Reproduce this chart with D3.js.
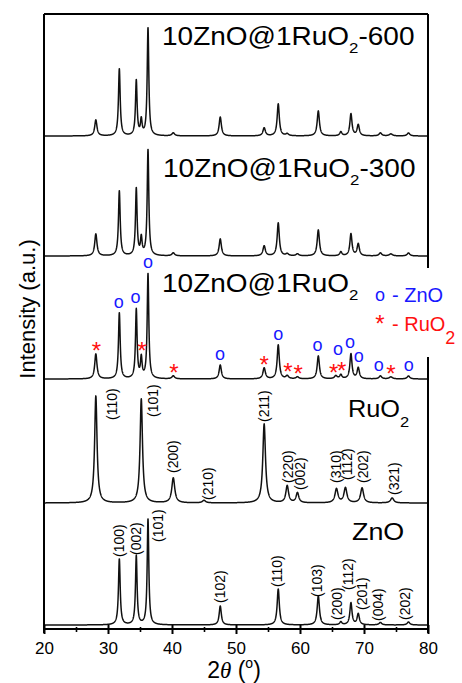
<!DOCTYPE html>
<html>
<head>
<meta charset="utf-8">
<script src="https://cdn.jsdelivr.net/npm/d3@7"></script>
<style>
  body { margin: 0; background: #fff; }
  text { font-family: "Liberation Sans", Arial, sans-serif; }
</style>
</head>
<body>
<div id="chart"></div>
<script>
// peaks: [2theta, height above baseline (a.u.), fwhm]
const znoPeaks = [
  [31.77, 66, 0.32], [34.42, 69, 0.3], [36.25, 106, 0.3], [47.54, 19, 0.4],
  [56.6, 36, 0.4], [62.86, 29, 0.42], [66.38, 3, 0.4], [67.96, 22, 0.4],
  [69.1, 11, 0.42], [72.56, 2.5, 0.5], [76.95, 3, 0.5]
]
const ruo2Peaks = [
  [28.1, 107, 0.45], [35.2, 104, 0.45], [40.2, 25, 0.55], [45.0, 2.5, 0.6],
  [54.4, 79, 0.5], [58.0, 17, 0.5], [59.6, 10, 0.5], [65.7, 14, 0.55],
  [67.1, 15, 0.55], [69.7, 15, 0.55], [74.4, 5, 0.6]
]
const compositePeaks = [
  [28.1, 25, 0.42], [31.77, 66, 0.32], [34.42, 69, 0.3], [35.2, 20, 0.3],
  [36.25, 105, 0.3], [40.2, 3, 0.5], [47.54, 14, 0.42], [54.4, 11, 0.45],
  [56.6, 34, 0.4], [58.0, 3, 0.5], [59.6, 2, 0.5], [62.86, 23, 0.42],
  [65.6, 3, 0.5], [66.38, 4, 0.4], [67.96, 25, 0.4], [69.1, 11, 0.42],
  [72.56, 3, 0.5], [74.2, 2, 0.6], [76.95, 3, 0.5]
]
const peaks300 = [
  [28.1, 22, 0.42], [31.77, 65, 0.32], [34.42, 67, 0.3], [35.2, 17, 0.3],
  [36.25, 106, 0.3], [40.2, 3, 0.5], [47.54, 17, 0.42], [54.4, 10, 0.45],
  [56.6, 33, 0.4], [58.0, 2, 0.5], [59.6, 2, 0.5], [62.86, 26, 0.42],
  [66.38, 4, 0.4], [67.96, 22, 0.4], [69.1, 12, 0.42], [72.56, 3, 0.5],
  [74.2, 2, 0.6], [76.95, 3, 0.5]
]
const peaks600 = [
  [28.1, 16, 0.42], [31.77, 67, 0.32], [34.42, 55, 0.3], [35.2, 15, 0.3],
  [36.25, 108, 0.3], [40.2, 3, 0.5], [47.54, 19, 0.42], [54.4, 8, 0.45],
  [56.6, 32, 0.4], [58.0, 2, 0.5], [62.86, 25, 0.42], [66.38, 4, 0.4],
  [67.96, 22, 0.4], [69.1, 11, 0.42], [72.56, 3, 0.5], [74.2, 2, 0.6],
  [76.95, 3, 0.5]
]

// stacked traces, bottom to top, with baseline offsets (a.u.)
const traces = [
  { name: 'ZnO', peaks: znoPeaks, offset: 4 },
  { name: 'RuO2', peaks: ruo2Peaks, offset: 126 },
  { name: '10ZnO@1RuO2', peaks: compositePeaks, offset: 250 },
  { name: '10ZnO@1RuO2-300', peaks: peaks300, offset: 373 },
  { name: '10ZnO@1RuO2-600', peaks: peaks600, offset: 493 }
]

// hkl labels: [text, 2theta, level above trace baseline]
const ruo2Hkl = [
  ['(110)', 30.66, 83], ['(101)', 37.0, 86], ['(200)', 40.15, 30], ['(210)', 45.6, 3],
  ['(211)', 54.4, 81], ['(220)', 58.1, 20], ['(002)', 60.0, 13], ['(310)', 65.6, 20],
  ['(112)', 67.3, 23], ['(202)', 69.8, 20], ['(321)', 74.7, 8]
]
const znoHkl = [
  ['(100)', 31.7, 68], ['(002)', 34.4, 70], ['(101)', 37.8, 83], ['(102)', 47.5, 22],
  ['(110)', 56.4, 38], ['(103)', 62.65, 28], ['(200)', 65.8, 5], ['(112)', 67.5, 35],
  ['(201)', 69.7, 15], ['(004)', 72.2, 4], ['(202)', 76.4, 5]
]

// phase markers on the composite trace
const rutileMarks = [28.2, 35.3, 40.3, 54.4, 58.1, 59.7, 65.25, 66.5, 74.2]
const zincMarks = [36.25, 31.7, 34.3, 47.5, 56.6, 62.75, 65.95, 67.8, 69.2, 72.3, 77.0]

const xTicks = [20, 30, 40, 50, 60, 70, 80]
const xMinor = [25, 35, 45, 55, 65, 75]

const width = 462
const height = 683
const plot = { left: 44, right: 428, top: 14, bottom: 629 }

const svg = d3.select('#chart').append('svg')
  .attr('width', width)
  .attr('height', height)

const x = d3.scaleLinear().domain([20, 80]).range([plot.left, plot.right])
const y = d3.scaleLinear().domain([0, plot.bottom - plot.top]).range([plot.bottom, plot.top])

function profile(peaks, t) {
  let s = 0
  peaks.forEach(([c, h, w]) => {
    const u = (t - c) / (w / 2)
    s += h / (1 + u * u)
  })
  return s
}

const angles = d3.range(20, 80.0001, 0.02)

traces.forEach(tr => {
  const pts = angles.map(t => [t, profile(tr.peaks, t)])
  const line = d3.line()
    .x(d => x(d[0]))
    .y(d => y(tr.offset + d[1]))
  svg.append('path')
    .datum(pts)
    .attr('d', line)
    .attr('fill', 'none')
    .attr('stroke', '#111')
    .attr('stroke-width', 1.5)
    .attr('stroke-linejoin', 'round')
})

// frame
const frame = svg.append('g').attr('stroke', '#000').attr('stroke-width', 2).attr('fill', 'none')
frame.append('line').attr('x1', plot.left).attr('x2', plot.left).attr('y1', plot.top).attr('y2', plot.bottom + 4)
frame.append('line').attr('x1', plot.left).attr('x2', plot.right).attr('y1', plot.top).attr('y2', plot.top)
frame.append('line').attr('x1', plot.left).attr('x2', plot.right).attr('y1', plot.bottom).attr('y2', plot.bottom)
frame.append('line').attr('x1', plot.right).attr('x2', plot.right).attr('y1', plot.top).attr('y2', 268)
frame.append('line').attr('x1', plot.right).attr('x2', plot.right).attr('y1', 357).attr('y2', plot.bottom + 4)

// bottom axis
const axisG = svg.append('g').attr('transform', `translate(0,${plot.bottom})`)
axisG.call(d3.axisBottom(x).tickValues(xTicks).tickSize(5).tickPadding(8).tickFormat(d3.format('d')))
axisG.select('.domain').remove()
axisG.selectAll('.tick line').attr('y1', -4).attr('stroke-width', 2)
axisG.selectAll('.tick text')
  .attr('font-size', 17)
  .attr('font-family', '"Liberation Sans", Arial, sans-serif')
  .attr('fill', '#000')
const minorG = svg.append('g').attr('transform', `translate(0,${plot.bottom})`)
minorG.call(d3.axisBottom(x).tickValues(xMinor).tickSize(3).tickFormat(''))
minorG.select('.domain').remove()
minorG.selectAll('.tick line').attr('y1', -2).attr('stroke-width', 1.6)

// axis titles
const xTitle = svg.append('text')
  .attr('x', 234).attr('y', 678)
  .attr('text-anchor', 'middle')
  .attr('font-size', 23)
xTitle.append('tspan').text('2')
xTitle.append('tspan').attr('font-style', 'italic').attr('font-family', '"Liberation Serif", serif').text('θ')
xTitle.append('tspan').text(' (')
xTitle.append('tspan').attr('font-size', 14).attr('dy', -10).text('o')
xTitle.append('tspan').attr('dy', 10).text(')')

svg.append('text')
  .attr('transform', 'translate(27,309) rotate(-90)')
  .attr('text-anchor', 'middle')
  .attr('dominant-baseline', 'central')
  .attr('font-size', 22)
  .text('Intensity (a.u.)')

// sample labels
function formula(g, main, sub, tail, size, subSize, subDy) {
  const t = g.append('text').attr('font-size', size).attr('fill', '#000')
  t.append('tspan').text(main)
  t.append('tspan').attr('font-size', subSize).attr('dy', subDy).text(sub)
  if (tail) t.append('tspan').attr('dy', -subDy).text(tail)
  return t
}
const labelSpots = [
  { x: 162, y: 45, tail: '-600' },
  { x: 163, y: 177, tail: '-300' },
  { x: 162, y: 292, tail: '' }
]
labelSpots.forEach(s => {
  const g = svg.append('g').attr('transform', `translate(${s.x},${s.y}) scale(1.12,1)`)
  formula(g, '10ZnO@1RuO', '2', s.tail, 25, 15, 8)
})
formula(svg.append('g').attr('transform', 'translate(348,417) scale(1.1,1)'), 'RuO', '2', '', 23, 15, 10)
formula(svg.append('g').attr('transform', 'translate(352,540) scale(1.12,1)'), 'ZnO', '', '', 24, 15, 0)

// hkl labels
function hkl(list, offset) {
  list.forEach(([txt, a, lvl]) => {
    svg.append('text')
      .attr('transform', `translate(${x(a)},${y(offset + lvl)}) rotate(-90)`)
      .attr('dominant-baseline', 'central')
      .attr('font-size', 14)
      .text(txt)
  })
}
hkl(ruo2Hkl, traces[1].offset)
hkl(znoHkl, traces[0].offset)

// phase markers on composite trace: sit just above the local maximum
const comp = traces[2]
const rutilePlaced = []
function markY(a) {
  const local = d3.max(d3.range(a - 0.25, a + 0.2501, 0.01), t => profile(comp.peaks, t))
  return y(comp.offset + local) - 9
}
rutileMarks.forEach(a => {
  const cx = x(a), cy = markY(a)
  rutilePlaced.push([cx, cy])
  svg.append('text').attr('x', cx).attr('y', cy + 14)
    .attr('text-anchor', 'middle').attr('font-size', 24).attr('fill', '#ff1010').text('*')
})
zincMarks.forEach(a => {
  const cx = x(a)
  let cy = markY(a)
  // stack above a neighbouring asterisk
  rutilePlaced.forEach(p => {
    if (Math.abs(p[0] - cx) < 7 && Math.abs(p[1] - cy) < 14) cy = Math.min(cy, p[1] - 16)
  })
  svg.append('text').attr('x', cx).attr('y', cy + 4)
    .attr('text-anchor', 'middle').attr('font-size', 18)
    .attr('font-family', '"Liberation Serif", serif').attr('fill', '#1818ff').text('o')
})

// legend
svg.append('text').attr('x', 380).attr('y', 301)
  .attr('text-anchor', 'middle').attr('font-size', 18)
  .attr('font-family', '"Liberation Serif", serif').attr('fill', '#1818ff').text('o')
svg.append('text').attr('x', 392).attr('y', 302).attr('font-size', 20).attr('fill', '#1818ff').text('- ZnO')
svg.append('text').attr('x', 380).attr('y', 332)
  .attr('text-anchor', 'middle').attr('font-size', 24).attr('fill', '#ff1010').text('*')
const leg2 = svg.append('text').attr('x', 392).attr('y', 331).attr('font-size', 20).attr('fill', '#ff1010')
leg2.append('tspan').text('- RuO')
leg2.append('tspan').attr('font-size', 18).attr('dy', 13).text('2')
</script>
</body>
</html>
